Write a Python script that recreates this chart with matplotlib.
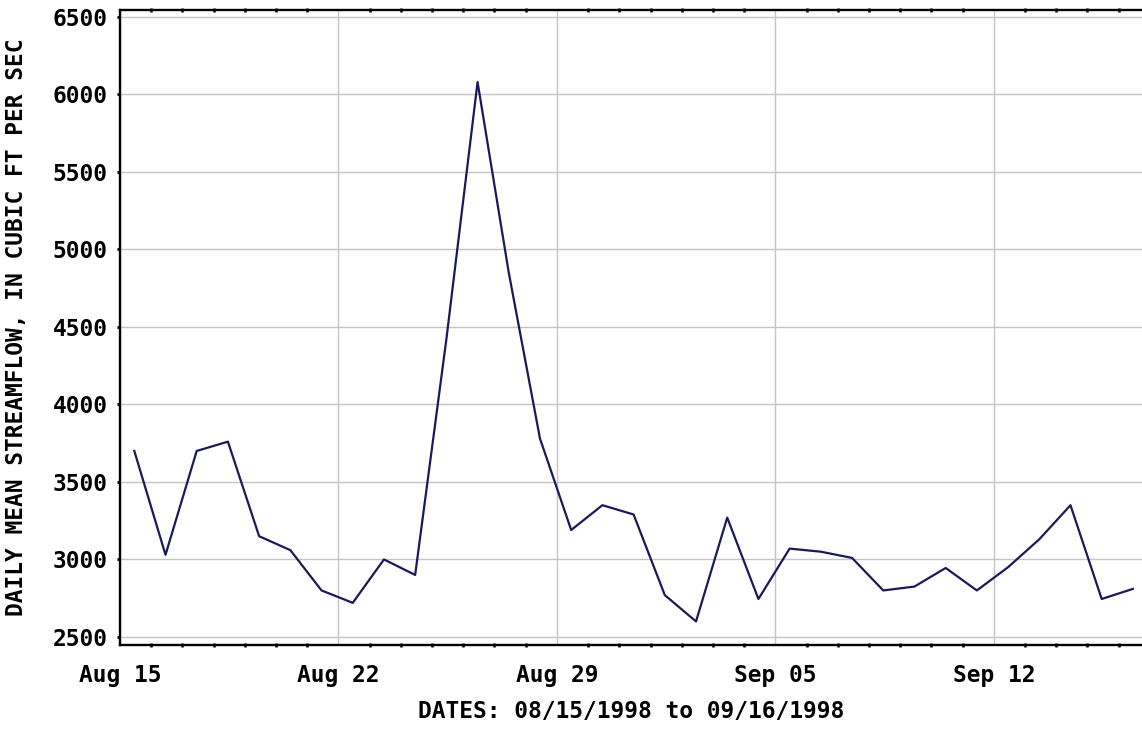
import datetime as dt
import matplotlib
matplotlib.use("Agg")
import matplotlib.pyplot as plt
import matplotlib.dates as mdates

# daily mean streamflow, cubic ft per sec, 08/15/1998 .. 09/16/1998
start_date = dt.date(1998, 8, 15)
flow = [3700, 3030, 3700, 3760, 3150, 3060, 2800, 2720, 3000, 2900,
        4420, 6080, 4850, 3780, 3190, 3350, 3290, 2770, 2600, 3270,
        2745, 3070, 3050, 3010, 2800, 2825, 2945, 2800, 2950, 3130,
        3350, 2745, 2810]
tick_dates = ["1998-08-15", "1998-08-22", "1998-08-29", "1998-09-05", "1998-09-12"]
tick_labels = ["Aug 15", "Aug 22", "Aug 29", "Sep 05", "Sep 12"]
y_ticks = [2500, 3000, 3500, 4000, 4500, 5000, 5500, 6000, 6500]

ylabel = "DAILY MEAN STREAMFLOW, IN CUBIC FT PER SEC"
xlabel = "DATES: 08/15/1998 to 09/16/1998"

FONT = {"family": "DejaVu Sans Mono", "weight": "bold", "size": 16.5}

# values are daily means, plot them at midday
days = [dt.datetime.combine(start_date, dt.time(11)) + dt.timedelta(days=i)
        for i in range(len(flow))]
x0 = dt.datetime.combine(start_date, dt.time(0))
x1 = days[-1] + dt.timedelta(hours=7)

fig = plt.figure(figsize=(11.42, 7.30), dpi=100)
ax = fig.add_axes([120 / 1142, 1 - 645 / 730, 1 - 120 / 1142, 635 / 730])

ax.plot(days, flow, color="#1a1a58", linewidth=1.6, zorder=3)

ax.set_xlim(x0, x1)
ax.set_ylim(2448, 6545)

# grid
ticks = [mdates.datestr2num(d) for d in tick_dates]
ax.set_xticks(ticks)
ax.set_xticklabels(tick_labels, fontdict=FONT)
ax.xaxis.set_minor_locator(mdates.DayLocator())
ax.set_yticks(y_ticks)
ax.set_yticklabels([str(v) for v in y_ticks], fontdict=FONT)
ax.grid(True, which="major", color="#c4c4c4", linewidth=1.0, zorder=0)

ax.tick_params(axis="x", which="major", length=0, pad=14)
ax.tick_params(axis="x", which="minor", direction="inout", length=3, width=1.8,
               top=True, bottom=True, color="black")
ax.tick_params(axis="y", which="major", direction="out", length=2, width=2, pad=7)

for side in ["left", "bottom", "top"]:
    ax.spines[side].set_linewidth(1.7)
    ax.spines[side].set_color("black")
ax.spines["right"].set_visible(False)

ax.set_ylabel(ylabel, fontdict=FONT)
ax.yaxis.set_label_coords(-(120 - 17) / 1022, 0.5)
ax.set_xlabel(xlabel, fontdict=FONT)
ax.xaxis.set_label_coords(0.5, -(711 - 645) / 635)
ax.xaxis.label.set_va("center")
ax.yaxis.label.set_va("center")

fig.savefig("out.png", dpi=100)
